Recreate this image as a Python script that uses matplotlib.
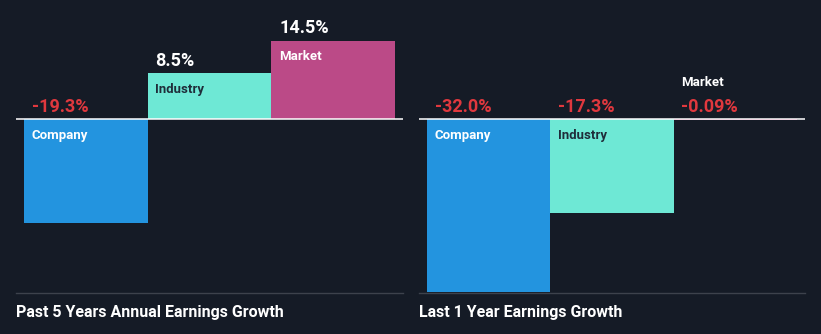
import matplotlib.pyplot as plt

# Earnings growth in percent
categories = ['Company', 'Industry', 'Market']
growth_5y = [-19.3, 8.5, 14.5]
growth_1y = [-32.0, -17.3, -0.09]
labels_5y = ['-19.3%', '8.5%', '14.5%']
labels_1y = ['-32.0%', '-17.3%', '-0.09%']
titles = ['Past 5 Years Annual Earnings Growth', 'Last 1 Year Earnings Growth']

bg = '#151b26'
colors = ['#2394df', '#6ee8d5', '#bb4a87']
name_colors = ['white', '#1f2d3a', 'white']
neg_red = '#e0383e'

plt.rcParams['font.family'] = ['Roboto', 'DejaVu Sans']

W, H = 821, 334
fig = plt.figure(figsize=(W / 100, H / 100), dpi=100, facecolor=bg)


def px_axes(x0, x1, ytop, ybot):
    return fig.add_axes([x0 / W, 1 - ybot / H, (x1 - x0) / W, (ybot - ytop) / H])


panels = [(16, 403, growth_5y, labels_5y, titles[0]),
          (419, 805, growth_1y, labels_1y, titles[1])]

for x0, x1, values, labels, title in panels:
    ax = px_axes(x0, x1, 20, 292)
    ax.set_facecolor(bg)
    ax.bar(range(3), values, width=1, align='edge', color=colors, linewidth=0)
    ax.set_xlim(-0.065, 3.064)
    ax.set_ylim(-32, 18.33)
    ax.axhline(0, color='white', lw=1.1, zorder=3)
    ax.axis('off')

    for i, (v, lab, name) in enumerate(zip(values, labels, categories)):
        top = max(v, 0)
        ax.annotate(lab, (i, top), xytext=(5.5, 9), textcoords='offset points',
                    ha='left', va='center', fontsize=13, fontweight='bold',
                    color=neg_red if v < 0 else 'white')
        if v < 0 and abs(v) < 3:
            # bar too thin to hold its name, put it above the value
            ax.annotate(name, (i, top), xytext=(5.5, 26.5), textcoords='offset points',
                        ha='left', va='center', fontsize=9.5, fontweight='bold',
                        color='white')
        else:
            ax.annotate(name, (i, top), xytext=(5.5, -11.5), textcoords='offset points',
                        ha='left', va='center', fontsize=9.5, fontweight='bold',
                        color=name_colors[i])

    fig.add_artist(plt.Line2D([x0 / W, x1 / W], [1 - 292.5 / H] * 2,
                              color='#3d424c', lw=1))
    fig.text(x0 / W, 1 - 312 / H, title, ha='left', va='center',
             fontsize=11.5, fontweight='bold', color='white')

fig.savefig('out.png', dpi=100, facecolor=bg)
